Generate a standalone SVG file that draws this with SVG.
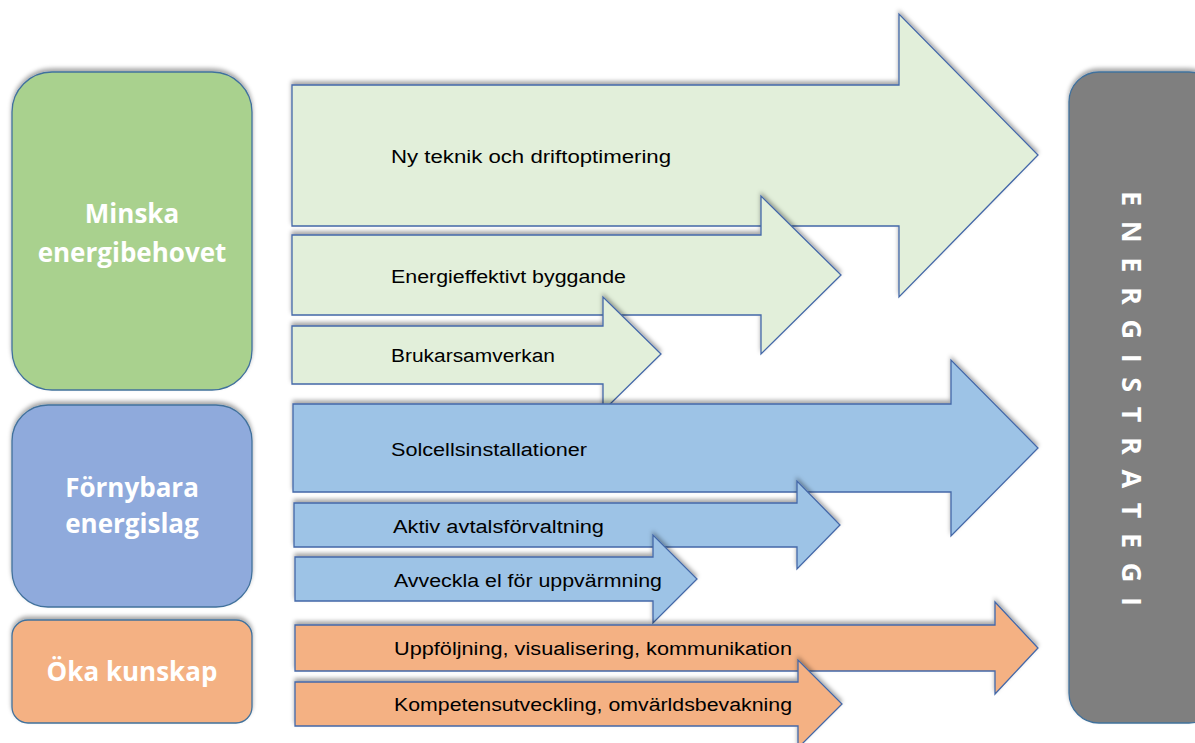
<svg xmlns="http://www.w3.org/2000/svg" width="1195" height="743" viewBox="0 0 1195 743">
<defs>
<filter id="sh" x="-5%" y="-10%" width="110%" height="120%">
<feDropShadow dx="0" dy="-3" stdDeviation="2" flood-color="#000" flood-opacity="0.35"/>
</filter>
<style>
.arr{stroke:#4468A8;stroke-width:1.3;filter:url(#sh)}
.g{fill:#E2EFDA}.b{fill:#9DC3E6}.o{fill:#F4B183}
.box{stroke:#41719C;stroke-width:1.3;filter:url(#sh)}
.lbl{font-family:"Liberation Sans",Arial,sans-serif;font-size:18px;fill:#000}
.head{font-family:"Open Sans","DejaVu Sans",sans-serif;font-weight:bold;font-size:26px;fill:#fff;text-anchor:middle}
.vert{font-family:"Open Sans","DejaVu Sans",sans-serif;font-weight:bold;font-size:27px;fill:#fff}
</style>
</defs>
<g id="node-minska">
<rect class="box" x="12" y="72" width="240" height="318" rx="40" fill="#A9D18E"/>
<text class="head" x="132" y="223">Minska</text>
<text class="head" x="132" y="262">energibehovet</text>
</g>
<g id="node-fornybara">
<rect class="box" x="12" y="405" width="240" height="202" rx="36" fill="#8FAADC"/>
<text class="head" x="132" y="497">Förnybara</text>
<text class="head" x="132" y="533">energislag</text>
</g>
<g id="node-oka">
<rect class="box" x="12" y="620" width="240" height="103" rx="16" fill="#F4B183"/>
<text class="head" x="132" y="681">Öka kunskap</text>
</g>
<g id="node-energistrategi">
<rect class="box" x="1069" y="72" width="150" height="651" rx="30" fill="#7F7F7F"/>
<text class="vert" transform="translate(1122,191) rotate(90)" x="0" y="0" textLength="415" lengthAdjust="spacing">ENERGISTRATEGI</text>
</g>
<g id="connectors">
<g id="arrow-ny-teknik">
<path class="arr g" d="M292,85 H899 V14 L1038,155 L899,297 V226 H292 Z"/>
<text class="lbl" x="391" y="163" textLength="280" lengthAdjust="spacingAndGlyphs">Ny teknik och driftoptimering</text>
</g>
<g id="arrow-energieffektivt">
<path class="arr g" d="M292,235 H761 V196 L841,275 L761,354 V315 H292 Z"/>
<text class="lbl" x="391" y="283" textLength="235" lengthAdjust="spacingAndGlyphs">Energieffektivt byggande</text>
</g>
<g id="arrow-brukarsamverkan">
<path class="arr g" d="M292,326 H603 V297 L661,354 L603,411 V384 H292 Z"/>
<text class="lbl" x="391" y="362" textLength="164" lengthAdjust="spacingAndGlyphs">Brukarsamverkan</text>
</g>
<g id="arrow-solceller">
<path class="arr b" d="M293,404 H951 V360 L1038,448 L951,536 V492 H293 Z"/>
<text class="lbl" x="391" y="456" textLength="196" lengthAdjust="spacingAndGlyphs">Solcellsinstallationer</text>
</g>
<g id="arrow-aktiv">
<path class="arr b" d="M294,503 H797 V481 L840,525 L797,569 V547 H294 Z"/>
<text class="lbl" x="393" y="533" textLength="211" lengthAdjust="spacingAndGlyphs">Aktiv avtalsförvaltning</text>
</g>
<g id="arrow-avveckla">
<path class="arr b" d="M295,557 H653 V535 L697,579 L653,623 V601 H295 Z"/>
<text class="lbl" x="394" y="587" textLength="268" lengthAdjust="spacingAndGlyphs">Avveckla el för uppvärmning</text>
</g>
<g id="arrow-uppfoljning">
<path class="arr o" d="M295,625 H995 V602 L1038,648 L995,694 V671 H295 Z"/>
<text class="lbl" x="394" y="655" textLength="398" lengthAdjust="spacingAndGlyphs">Uppföljning, visualisering, kommunikation</text>
</g>
<g id="arrow-kompetens">
<path class="arr o" d="M295,682 H798 V660 L842,704 L798,748 V726 H295 Z"/>
<text class="lbl" x="394" y="711" textLength="398" lengthAdjust="spacingAndGlyphs">Kompetensutveckling, omvärldsbevakning</text>
</g>
</g>
</svg>
